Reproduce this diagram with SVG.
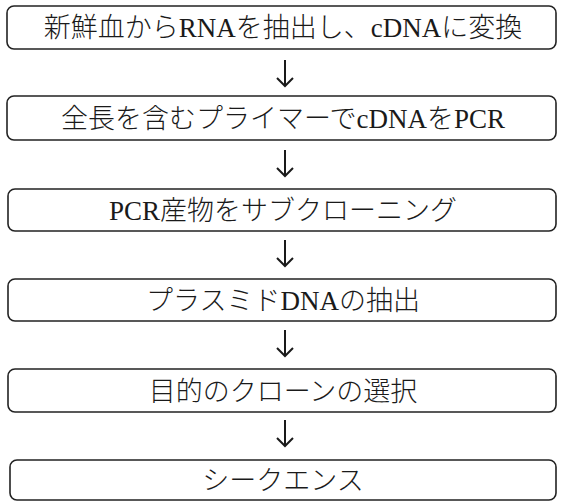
<svg xmlns="http://www.w3.org/2000/svg" width="565" height="501" viewBox="0 0 565 501">
<style>
.box{fill:#fff;stroke:#222;stroke-width:1.6}
.t{font-family:"Liberation Serif","Noto Sans CJK JP",serif;font-size:27px;font-weight:300;fill:#1a1a1a;text-anchor:middle}
.l{font-weight:400}
.c{stroke:#1a1a1a;stroke-width:2;fill:none}
</style>
<rect width="565" height="501" fill="#fff"/>
<g id="n1"><rect class="box" x="7" y="6" width="549" height="43" rx="7"/><text class="t" x="283" y="37">新鮮血から<tspan class="l">RNA</tspan>を抽出し、<tspan class="l">cDNA</tspan>に変換</text></g>
<g id="n2"><rect class="box" x="7" y="96" width="549" height="44" rx="7"/><text class="t" x="283" y="128">全長を含むプライマーで<tspan class="l">cDNA</tspan>を<tspan class="l">PCR</tspan></text></g>
<g id="n3"><rect class="box" x="8" y="189" width="548" height="42" rx="7"/><text class="t" x="283" y="220"><tspan class="l">PCR</tspan>産物をサブクローニング</text></g>
<g id="n4"><rect class="box" x="8" y="279" width="548" height="42" rx="7"/><text class="t" x="283" y="310">プラスミド<tspan class="l">DNA</tspan>の抽出</text></g>
<g id="n5"><rect class="box" x="8" y="369" width="548" height="43" rx="7"/><text class="t" x="283" y="401">目的のクローンの選択</text></g>
<g id="n6"><rect class="box" x="10" y="460" width="546" height="40" rx="7"/><text class="t" x="283" y="490">シークエンス</text></g>
<g id="connectors">
<path class="c" d="M285 60V86M277 78L285 86L293 78"/>
<path class="c" d="M285 150V176M277 168L285 176L293 168"/>
<path class="c" d="M285 240V266M277 258L285 266L293 258"/>
<path class="c" d="M285 330V356M277 348L285 356L293 348"/>
<path class="c" d="M285 420V446M277 438L285 446L293 438"/>
</g>
</svg>
